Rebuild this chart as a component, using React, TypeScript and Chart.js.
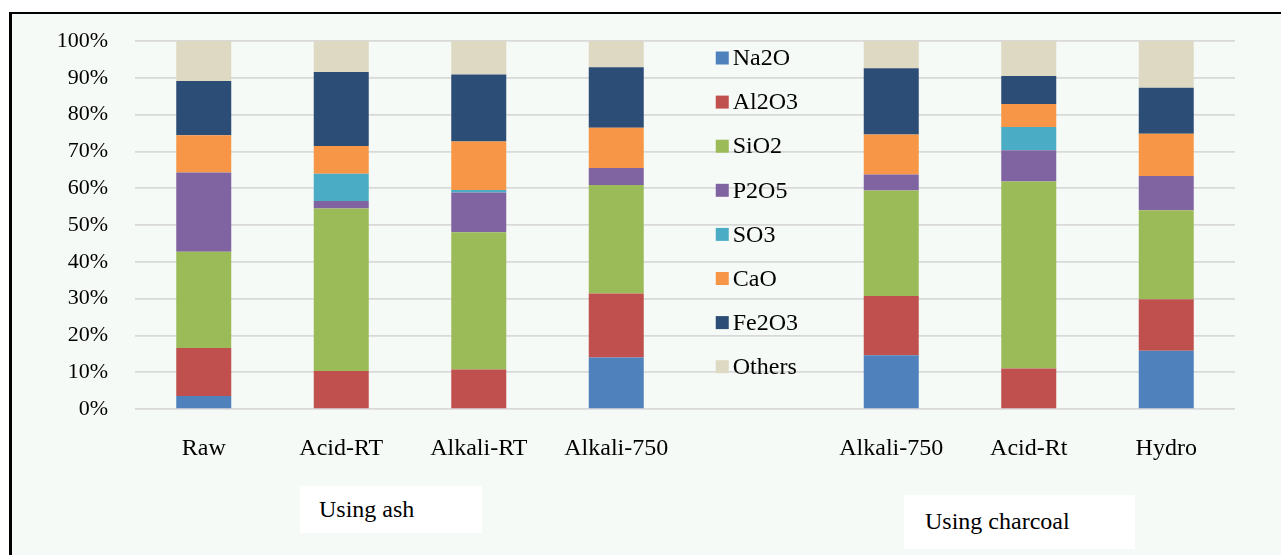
import React, { useEffect, useRef } from "react";
import { Chart, registerables } from "chart.js";

Chart.register(...registerables);

const categories = ["Raw", "Acid-RT", "Alkali-RT", "Alkali-750", "", "Alkali-750", "Acid-Rt", "Hydro"];
const legendSlot = 4;

const seriesNames = ["Na2O", "Al2O3", "SiO2", "P2O5", "SO3", "CaO", "Fe2O3", "Others"];
const seriesColors = ["#4F81BD", "#C0504D", "#9BBB59", "#8064A2", "#4BACC6", "#F79646", "#2C4D75", "#DDD9C3"];

const na2o = [3.5, 0, 0, 14.0, null, 14.6, 0, 15.8];
const al2o3 = [13.1, 10.3, 10.7, 17.4, null, 16.1, 11.0, 14.0];
const sio2 = [26.1, 44.2, 37.3, 29.5, null, 28.7, 50.8, 24.2];
const p2o5 = [21.6, 2.0, 10.8, 4.6, null, 4.3, 8.5, 9.3];
const so3 = [0, 7.4, 0.7, 0, null, 0, 6.3, 0];
const cao = [10.1, 7.6, 13.2, 10.9, null, 10.9, 6.3, 11.5];
const fe2o3 = [14.7, 20.1, 18.2, 16.5, null, 18.0, 7.6, 12.5];
const others = [10.9, 8.4, 9.1, 7.1, null, 7.4, 9.5, 12.7];

const seriesValues = [na2o, al2o3, sio2, p2o5, so3, cao, fe2o3, others];

const yTicks = [0, 10, 20, 30, 40, 50, 60, 70, 80, 90, 100];

const FONT = '"Liberation Serif", "Times New Roman", serif';

const midLegend = {
  id: "midLegend",
  afterDraw(chart: any) {
    const ctx = chart.ctx;
    const xs = chart.scales.x;
    const left = xs.getPixelForValue(legendSlot) - 38;
    const top = chart.chartArea.top + 17;
    ctx.save();
    ctx.font = `24px ${FONT}`;
    ctx.textBaseline = "middle";
    ctx.textAlign = "left";
    chart.data.datasets.forEach((ds: any, i: number) => {
      const cy = top + i * 44.1;
      ctx.fillStyle = ds.backgroundColor;
      ctx.fillRect(left, cy - 6.5, 13, 13);
      ctx.fillStyle = "#000";
      ctx.fillText(ds.label, left + 17, cy + 1);
    });
    ctx.restore();
  },
};

export default function App() {
  const ref = useRef<HTMLCanvasElement | null>(null);

  useEffect(() => {
    if (!ref.current) return;
    const chart = new Chart(ref.current, {
      type: "bar",
      data: {
        labels: categories,
        datasets: seriesNames.map((name, i) => ({
          label: name,
          data: seriesValues[i] as any,
          backgroundColor: seriesColors[i],
          borderWidth: 0,
          barPercentage: 0.4,
          categoryPercentage: 1,
        })),
      },
      options: {
        responsive: false,
        animation: false,
        layout: { padding: { top: 41, right: 46, left: 0, bottom: 0 } },
        plugins: { legend: { display: false }, tooltip: { enabled: false } },
        scales: {
          x: {
            stacked: true,
            grid: { display: false },
            border: { display: false },
            ticks: { font: { family: FONT, size: 24 }, color: "#000", padding: 17, maxRotation: 0 },
            afterFit: (s: any) => {
              s.height = 146;
            },
          },
          y: {
            stacked: true,
            min: 0,
            max: 100,
            afterBuildTicks: (s: any) => {
              s.ticks = yTicks.map((v) => ({ value: v }));
            },
            ticks: {
              font: { family: FONT, size: 22 },
              color: "#000",
              padding: 27,
              callback: (v: any) => `${v}%`,
            },
            grid: { color: "#d9d9d9", lineWidth: 1.7, drawTicks: false },
            border: { display: false },
            afterFit: (s: any) => {
              s.width = 135;
            },
          },
        },
      } as any,
      plugins: [midLegend],
    });
    return () => chart.destroy();
  }, []);

  return (
    <div
      style={{
        position: "fixed",
        left: 0,
        top: 0,
        width: 1281,
        height: 555,
        overflow: "hidden",
        background: "#fff",
      }}
    >
      <div
        style={{
          position: "absolute",
          left: 9,
          top: 12,
          width: 1320,
          height: 600,
          borderTop: "2.5px solid #000",
          borderLeft: "3px solid #000",
          background: "#f6faf7",
        }}
      />
      <canvas
        ref={ref}
        width={1281}
        height={555}
        style={{ position: "absolute", left: 0, top: 0, width: 1281, height: 555 }}
      />
      <div
        style={{
          position: "absolute",
          left: 300,
          top: 486,
          width: 182,
          height: 47,
          background: "#fff",
          fontFamily: FONT,
          fontSize: 24,
          lineHeight: "47px",
          paddingLeft: 19,
          boxSizing: "border-box",
          color: "#000",
        }}
      >
        Using ash
      </div>
      <div
        style={{
          position: "absolute",
          left: 904,
          top: 495,
          width: 231,
          height: 54,
          background: "#fff",
          fontFamily: FONT,
          fontSize: 24,
          lineHeight: "52px",
          paddingLeft: 21,
          boxSizing: "border-box",
          color: "#000",
        }}
      >
        Using charcoal
      </div>
    </div>
  );
}
